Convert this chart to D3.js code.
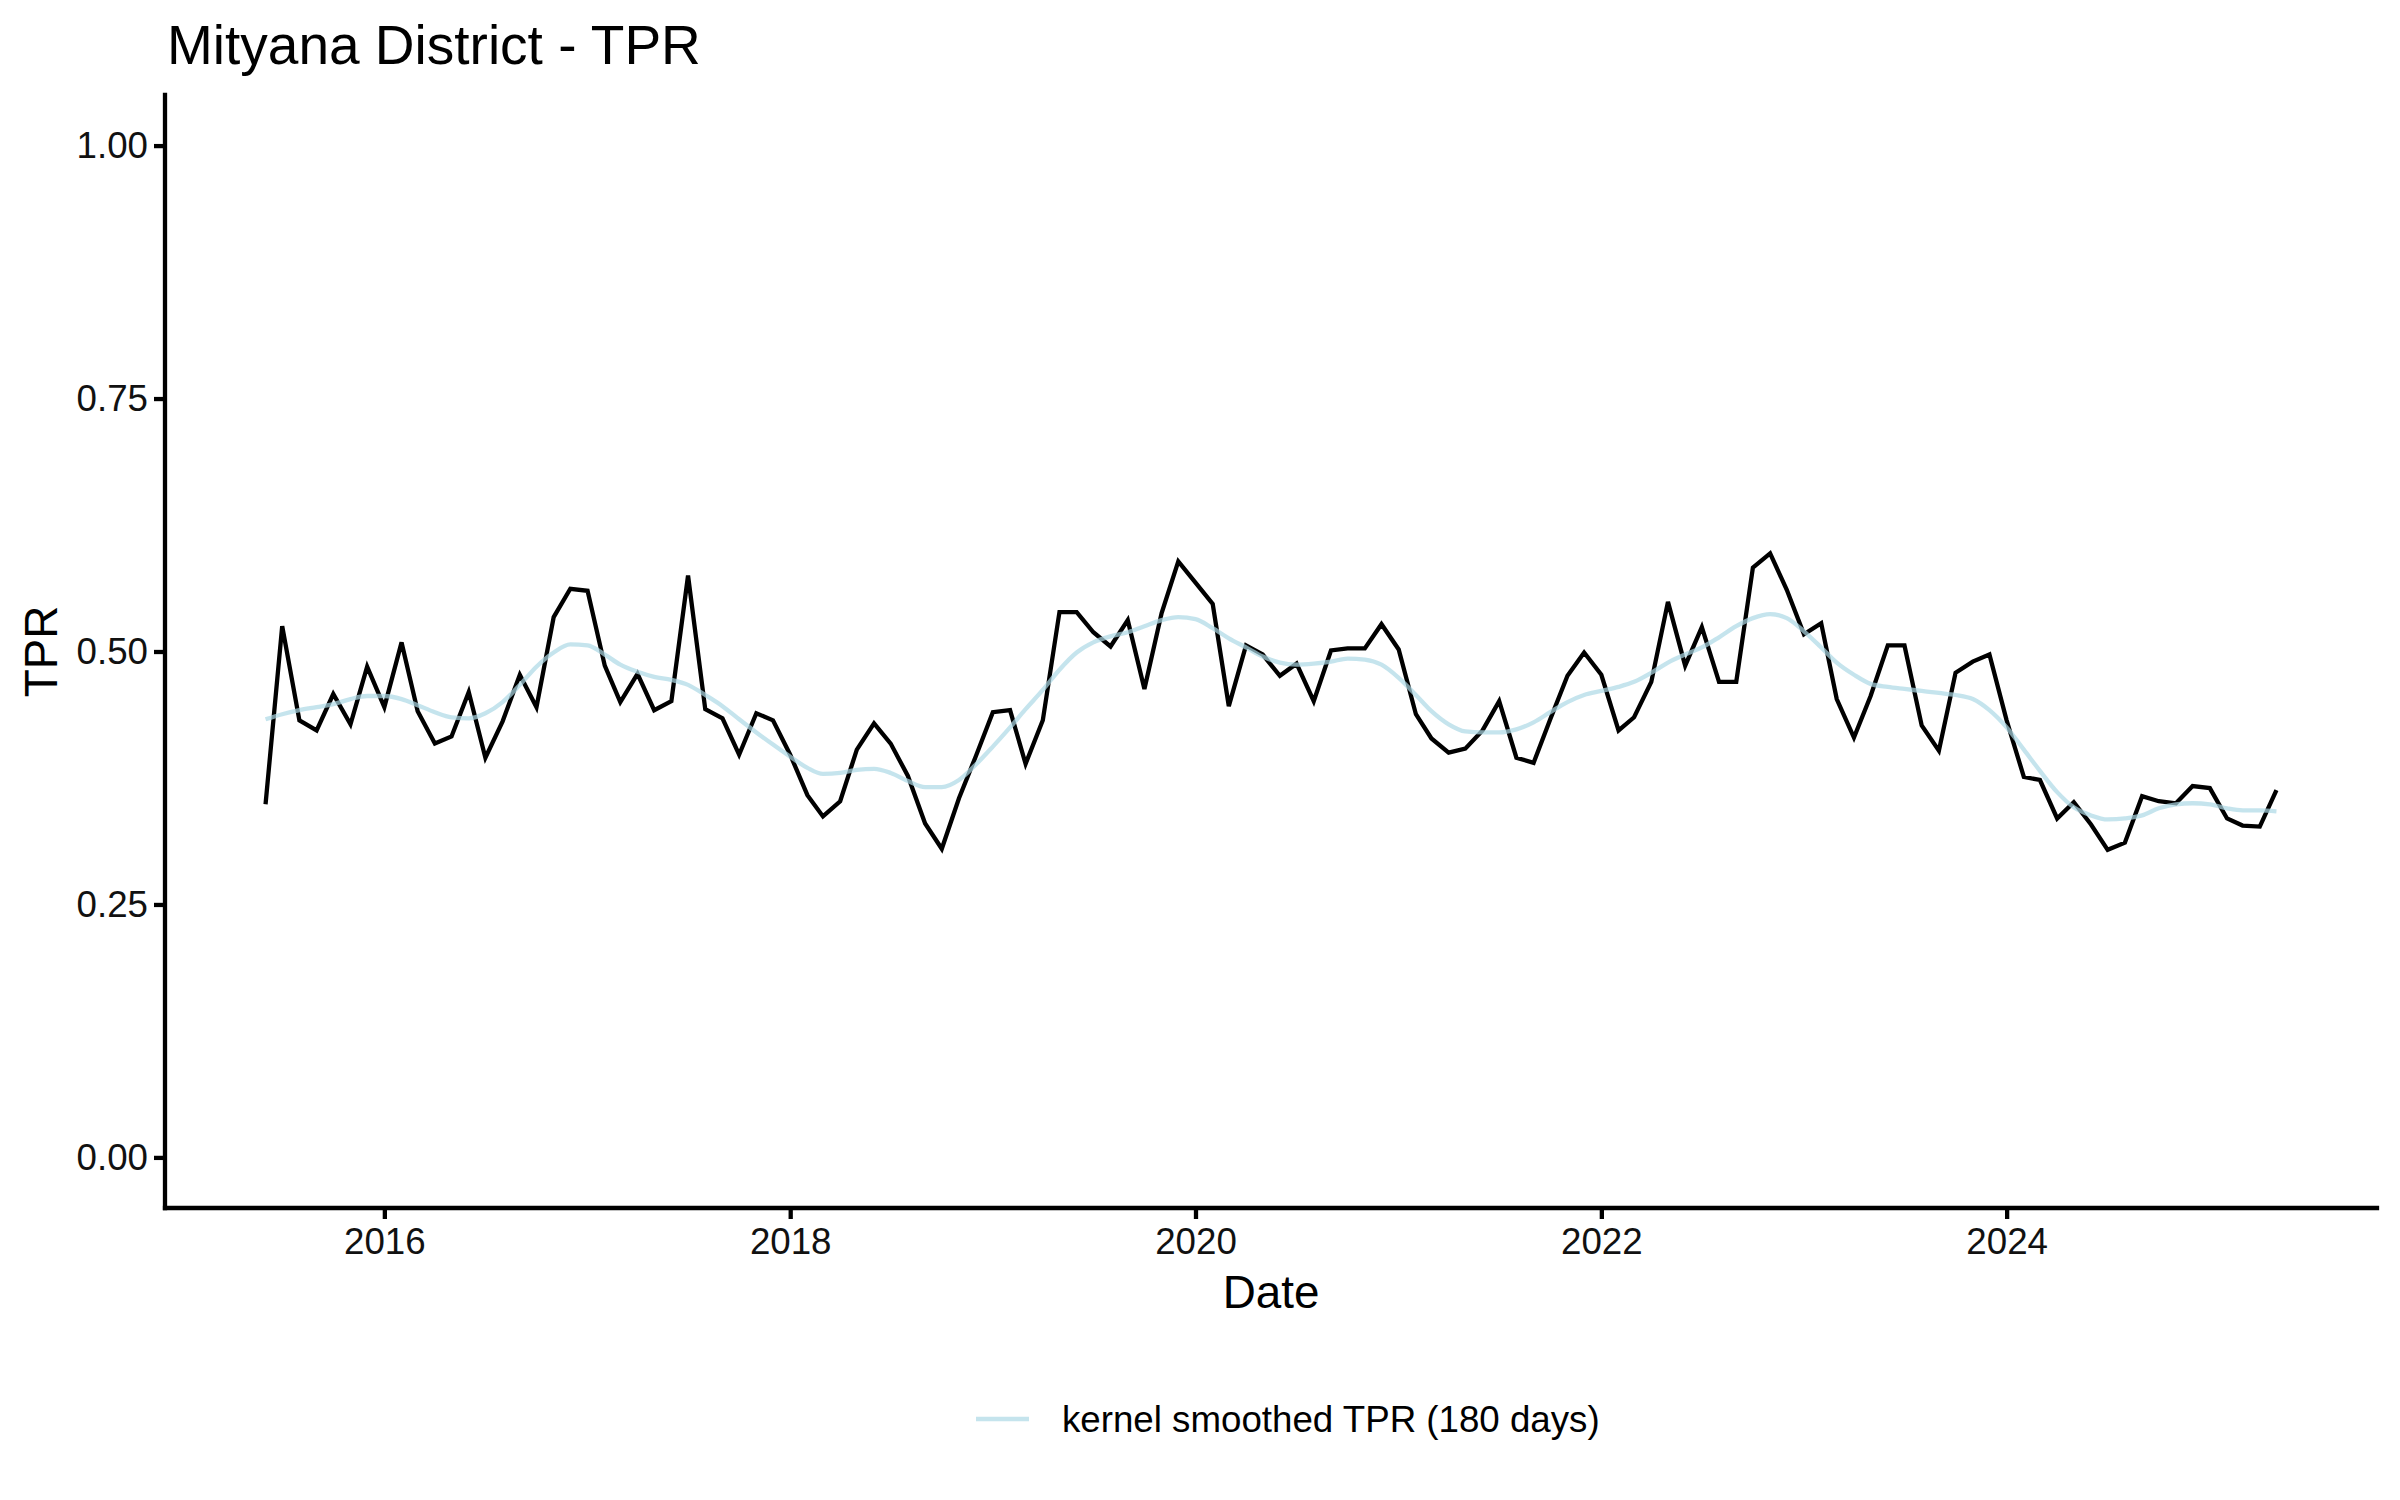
<!DOCTYPE html>
<html lang="en">

<head>
  <meta charset="UTF-8">
  <script src="https://d3js.org/d3.v7.min.js"></script>
  <title>Mityana District - TPR</title>
  <style>
    body {
      margin: 0;
      background: white;
    }

    text {
      font-family: "Liberation Sans", Arial, sans-serif;
    }
  </style>
</head>

<body>
  <div id="chart"></div>
  <script>
    // Monthly test positivity rate
    const months = [
      "2015-06", "2015-07", "2015-08", "2015-09", "2015-10", "2015-11", "2015-12",
      "2016-01", "2016-02", "2016-03", "2016-04", "2016-05", "2016-06", "2016-07", "2016-08", "2016-09", "2016-10", "2016-11", "2016-12",
      "2017-01", "2017-02", "2017-03", "2017-04", "2017-05", "2017-06", "2017-07", "2017-08", "2017-09", "2017-10", "2017-11", "2017-12",
      "2018-01", "2018-02", "2018-03", "2018-04", "2018-05", "2018-06", "2018-07", "2018-08", "2018-09", "2018-10", "2018-11", "2018-12",
      "2019-01", "2019-02", "2019-03", "2019-04", "2019-05", "2019-06", "2019-07", "2019-08", "2019-09", "2019-10", "2019-11", "2019-12",
      "2020-01", "2020-02", "2020-03", "2020-04", "2020-05", "2020-06", "2020-07", "2020-08", "2020-09", "2020-10", "2020-11", "2020-12",
      "2021-01", "2021-02", "2021-03", "2021-04", "2021-05", "2021-06", "2021-07", "2021-08", "2021-09", "2021-10", "2021-11", "2021-12",
      "2022-01", "2022-02", "2022-03", "2022-04", "2022-05", "2022-06", "2022-07", "2022-08", "2022-09", "2022-10", "2022-11", "2022-12",
      "2023-01", "2023-02", "2023-03", "2023-04", "2023-05", "2023-06", "2023-07", "2023-08", "2023-09", "2023-10", "2023-11", "2023-12",
      "2024-01", "2024-02", "2024-03", "2024-04", "2024-05", "2024-06", "2024-07", "2024-08", "2024-09", "2024-10", "2024-11", "2024-12",
      "2025-01", "2025-02", "2025-03", "2025-04", "2025-05"
    ];

    const tpr = [
      0.349, 0.525, 0.432, 0.422, 0.458, 0.428, 0.485,
      0.445, 0.509, 0.441, 0.409, 0.416, 0.460, 0.395, 0.431, 0.477, 0.445, 0.534, 0.562,
      0.560, 0.486, 0.450, 0.478, 0.442, 0.451, 0.575, 0.443, 0.434, 0.398, 0.439, 0.432,
      0.398, 0.358, 0.337, 0.352, 0.403, 0.429, 0.409, 0.377, 0.330, 0.305, 0.355, 0.396,
      0.440, 0.442, 0.389, 0.432, 0.539, 0.539, 0.519, 0.505, 0.531, 0.463, 0.538, 0.589,
      0.568, 0.547, 0.446, 0.506, 0.497, 0.476, 0.488, 0.451, 0.501, 0.503, 0.503, 0.527,
      0.502, 0.438, 0.414, 0.400, 0.404, 0.422, 0.451, 0.395, 0.390, 0.433, 0.476, 0.499,
      0.477, 0.422, 0.435, 0.470, 0.549, 0.486, 0.524, 0.470, 0.470, 0.583, 0.597, 0.561,
      0.517, 0.528, 0.453, 0.415, 0.456, 0.506, 0.506, 0.427, 0.402, 0.479, 0.490, 0.497,
      0.432, 0.376, 0.373, 0.335, 0.351, 0.329, 0.304, 0.311, 0.357, 0.352, 0.350, 0.367,
      0.365, 0.335, 0.328, 0.327, 0.363
    ];

    // kernel smoothed TPR (180 days), also
    const smoothTpr = [
      0.433, 0.438, 0.442, 0.445, 0.448, 0.453, 0.456,
      0.456, 0.453, 0.447, 0.440, 0.435, 0.434, 0.439, 0.450, 0.467, 0.485, 0.499, 0.507,
      0.506, 0.497, 0.487, 0.480, 0.475, 0.472, 0.467, 0.457, 0.446, 0.433, 0.420, 0.408,
      0.396, 0.385, 0.379, 0.380, 0.383, 0.384, 0.380, 0.372, 0.366, 0.366, 0.373, 0.388,
      0.406, 0.425, 0.443, 0.462, 0.482, 0.499, 0.509, 0.515, 0.519, 0.525, 0.531, 0.534,
      0.532, 0.523, 0.513, 0.504, 0.495, 0.489, 0.487, 0.488, 0.490, 0.493, 0.492, 0.487,
      0.474, 0.457, 0.441, 0.428, 0.421, 0.420, 0.420, 0.423, 0.430, 0.440, 0.450, 0.457,
      0.461, 0.465, 0.470, 0.479, 0.489, 0.497, 0.504, 0.514, 0.525, 0.533, 0.537, 0.533,
      0.520, 0.504, 0.489, 0.477, 0.468, 0.465, 0.463, 0.461, 0.459, 0.457, 0.453, 0.442,
      0.425, 0.403, 0.382, 0.361, 0.346, 0.338, 0.334, 0.335, 0.338, 0.345, 0.349, 0.350,
      0.349, 0.345, 0.343, 0.343, 0.342
    ];

    const yTicks = [0, 0.25, 0.5, 0.75, 1];
    const xTickYears = [2016, 2018, 2020, 2022, 2024];
    const legendLabel = "kernel smoothed TPR (180 days)";

    const width = 2400;
    const height = 1500;
    const panel = { left: 165, right: 2377, top: 95, bottom: 1208 };

    const parseMonth = d3.timeParse("%Y-%m");
    const data = months.map((m, i) => ({ date: parseMonth(m), tpr: tpr[i], smooth: smoothTpr[i] }));

    const svg = d3.select("#chart")
      .append("svg")
      .attr("width", width)
      .attr("height", height);

    // ggplot style 5% expansion on both scales
    const [d0, d1] = d3.extent(data, d => d.date);
    const pad = (d1 - d0) * 0.05;
    const x = d3.scaleTime()
      .domain([new Date(+d0 - pad), new Date(+d1 + pad)])
      .range([panel.left, panel.right]);

    const y = d3.scaleLinear()
      .domain([-0.05, 1.05])
      .range([panel.bottom, panel.top]);

    const lineW = 4.3;

    // raw series
    svg.append("path")
      .datum(data)
      .attr("fill", "none")
      .attr("stroke", "black")
      .attr("stroke-width", lineW)
      .attr("stroke-linejoin", "miter")
      .attr("d", d3.line().x(d => x(d.date)).y(d => y(d.tpr)));

    // smoothed series on top, translucent light blue
    svg.append("path")
      .datum(data)
      .attr("fill", "none")
      .attr("stroke", "lightblue")
      .attr("stroke-opacity", 0.7)
      .attr("stroke-width", lineW)
      .attr("d", d3.line().x(d => x(d.date)).y(d => y(d.smooth)).curve(d3.curveMonotoneX));

    // axes
    const yAxis = svg.append("g")
      .attr("transform", `translate(${panel.left},0)`)
      .call(d3.axisLeft(y).tickValues(yTicks).tickFormat(d3.format(".2f")).tickSize(11).tickPadding(6));

    const xAxis = svg.append("g")
      .attr("transform", `translate(0,${panel.bottom})`)
      .call(d3.axisBottom(x).tickValues(xTickYears.map(yr => new Date(yr, 0, 1))).tickFormat(d3.timeFormat("%Y")).tickSize(11).tickPadding(9));

    [yAxis, xAxis].forEach(g => {
      g.select(".domain").attr("stroke-width", lineW).attr("stroke-linecap", "square");
      g.selectAll(".tick line").attr("stroke-width", lineW);
      g.selectAll(".tick text")
        .attr("fill", "#111")
        .style("font-size", "36.7px")
        .style("font-family", "'Liberation Sans', Arial, sans-serif");
    });
    // make the domain lines run the full panel without end ticks
    yAxis.select(".domain").attr("d", `M0,${panel.top}V${panel.bottom}`);
    xAxis.select(".domain").attr("d", `M${panel.left},0H${panel.right}`);

    // titles
    svg.append("text")
      .attr("x", 167)
      .attr("y", 64)
      .style("font-size", "55px")
      .text("Mityana District - TPR");

    svg.append("text")
      .attr("x", (panel.left + panel.right) / 2)
      .attr("y", 1308)
      .attr("text-anchor", "middle")
      .style("font-size", "45.8px")
      .text("Date");

    svg.append("text")
      .attr("transform", `translate(57,${(panel.top + panel.bottom) / 2}) rotate(-90)`)
      .attr("text-anchor", "middle")
      .style("font-size", "45.8px")
      .text("TPR");

    // legend
    const legend = svg.append("g")
      .attr("transform", "translate(976,1419)");

    legend.append("line")
      .attr("x1", 0)
      .attr("x2", 53)
      .attr("stroke", "lightblue")
      .attr("stroke-opacity", 0.7)
      .attr("stroke-width", lineW);

    legend.append("text")
      .attr("x", 86)
      .attr("y", 13)
      .style("font-size", "36.7px")
      .text(legendLabel);
  </script>
</body>

</html>
